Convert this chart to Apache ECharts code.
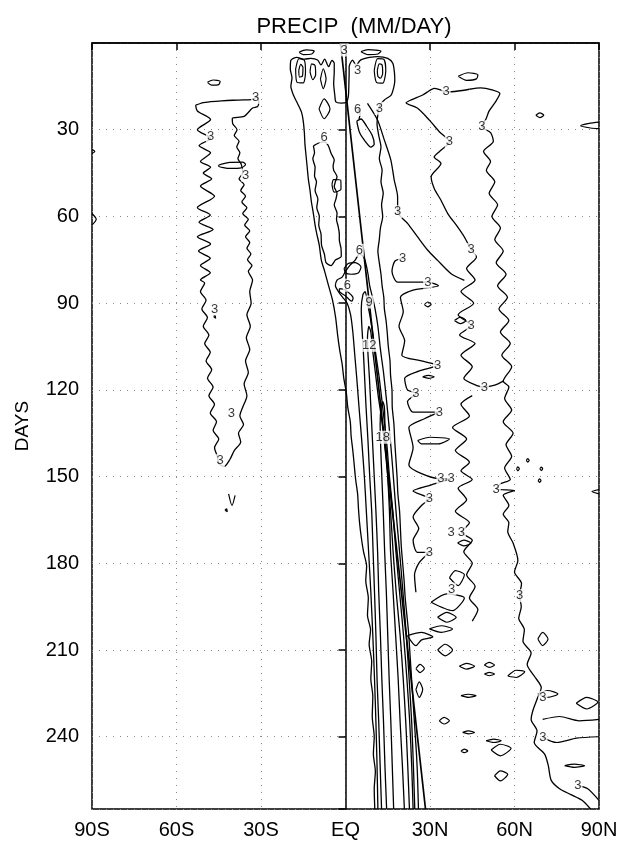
<!DOCTYPE html>
<html>
<head>
<meta charset="utf-8">
<script src="https://cdn.jsdelivr.net/npm/echarts@6/dist/echarts.min.js"></script>
<style>
  html, body { margin: 0; padding: 0; background: #fff; }
  #chart { width: 630px; height: 842px; }
</style>
</head>
<body>
<div id="chart"></div>
<script>
// Latitude / day contour traces of precipitation (mm/day); points are [lat, day].
const latTicks = ['90S', '60S', '30S', 'EQ', '30N', '60N', '90N'];
const dayTicks = [30, 60, 90, 120, 150, 180, 210, 240];

// straight reference line
const sunLine = [[-1.8, 0], [28.4, 265]];

// outer 3 mm/day contour of the tropical rain belt
const itczOuter = [
  [10.4,265],[10.2,258],[10.6,252],[9.9,246],[10.2,240],[9.5,233],[9.7,226],[9.0,220],[9.3,214],[8.4,208],
  [8.9,203],[7.8,198],[8.1,192],[7.2,186],[7.5,181],[6.4,176],[5.6,171],[5.0,166],[4.6,161],[4.3,156],
  [3.6,151],[3.1,146],[2.6,141],[2.0,136],[1.7,131],[0.8,126],[0.3,121],[-0.6,116],[-1.2,111],[-2.1,106],
  [-2.8,101],[-3.5,95],[-4.6,89],[-6.0,84],[-7.4,79],[-8.6,75],[-9.3,70],[-10.2,66],[-10.8,63],[-11.4,59],
  [-12.1,55],[-12.6,51],[-13.2,47],[-13.6,43],[-14.0,39],[-14.4,35],[-14.6,31],[-15.0,27],[-15.6,24],[-17.0,21],
  [-18.5,18],[-19.4,15],[-19.0,12],[-19.6,9],[-19.4,6],[-17.3,5.0],[-14.5,5.6],[-12.3,5.3],[-9.9,5.9],[-8.7,7.6],
  [-7.4,5.6],[-6.0,8.2],[-4.8,6.0],[-4.0,7.0],[-4.0,10],[-4.2,14],[-3.8,18],[-3.4,20.4],[-1.5,20.8],[0.2,20.6],
  [1.0,18.5],[1.2,14],[1.3,10],[1.3,8.2],[2.5,5.9],[3.8,7.8],[5.0,6.2],[6.1,5.6],[8.5,5.0],[11.4,4.7],
  [15.0,5.3],[16.8,7.0],[17.4,10.5],[17.5,13],[17.2,15.1],[16.2,18.0],[13.8,19.7],[12.2,21.5],[11.6,24],[11.2,28],
  [11.8,32],[12.6,36],[12.0,40],[13.0,44],[12.6,48],[13.4,52],[12.8,56],[13.2,60],[12.4,64],[12.0,68],
  [11.5,72],[12.0,76],[12.6,80],[13.0,84],[13.6,88],[13.8,92],[14.4,96],[14.8,100],[15.2,105],[15.8,110],
  [16.0,115],[16.5,120],[16.6,126],[17.2,132],[17.5,138],[17.9,144],[18.3,150],[18.6,156],[19.2,162],[19.5,168],
  [19.8,174],[20.3,180],[20.8,186],[21.2,192],[21.8,198],[22.4,204],[22.8,210],[23.2,216],[23.6,222],[24.0,228],
  [24.4,234],[24.8,240],[25.2,246],[25.5,252],[25.7,258],[25.9,265]
];

// 6 mm/day contours
const six1 = [
  [-11.4,35.6],[-9.5,34.6],[-7.5,34.2],[-6.2,35.3],[-5.6,36.8],[-5.1,38.2],[-4.0,40.5],[-4.4,42.5],[-4.2,44.0],[-3.0,46.3],
  [-3.6,48],[-4.0,49.7],[-3.0,52.0],[-3.4,54],[-4.0,56],[-3.0,58.9],[-3.2,61],[-2.6,63.5],[-2.2,66],[-2.2,68.1],
  [-1.6,71],[-1.5,73.9],[-3.5,75],[-5.1,77],[-6.9,76],[-7.5,73],[-8.5,70],[-8.7,66],[-9.5,63],[-9.3,60],
  [-10.2,57],[-9.8,54],[-10.8,51],[-10.3,48],[-11.0,46],[-10.8,43],[-11.6,40],[-11.0,38],[-11.4,35.6]
];
const six2 = [
  [11.5,265],[11.2,250],[10.8,235],[10.3,220],[9.7,205],[9.0,190],[8.2,176],[7.4,162],[6.7,150],[5.8,138],
  [4.8,126],[4.0,116],[3.3,108],[2.6,100],[1.8,94],[0.6,90],[-1.0,88],[-2.5,86],[-3.6,84],[-3.0,82],
  [-1.2,81],[0.0,79],[1.5,77],[3.5,75],[4.9,73],[6.5,74],[7.4,77],[8.0,80],[8.6,84],[9.6,88],
  [10.5,92],[11.5,98],[12.4,106],[13.5,114],[14.6,124],[15.6,134],[16.5,144],[17.3,154],[18.1,164],[19.2,176],
  [20.4,190],[21.6,205],[22.6,220],[23.5,235],[24.1,250],[24.6,265]
];
const six3 = [[4.0,27],[5.5,26.3],[7.5,28.8],[9.5,32],[10.2,35],[9.0,36],[7.0,34],[5.0,31],[4.0,27]];
const six4 = [[4.3,24.5],[4.6,22.8],[5.2,24.6],[4.8,26.3]];
// 9, 12 and 18 mm/day contours
const nine = [
  [12.8,265],[12.3,250],[11.8,235],[11.2,220],[10.8,205],[10.3,190],[9.8,176],[9.3,162],[8.6,150],[8.0,138],
  [7.3,126],[6.8,116],[6.3,106],[5.8,98],[5.6,92],[6.2,87],[7.0,86],[7.6,89],[8.6,94],[9.6,100],
  [10.8,108],[12.0,116],[13.2,126],[14.6,138],[15.6,150],[16.8,162],[17.9,176],[19.2,190],[20.6,205],[21.8,220],
  [22.8,235],[23.5,250],[24.0,265]
];
const twelve = [
  [14.6,265],[14.0,250],[13.5,235],[12.9,220],[12.4,205],[11.8,190],[11.4,176],[10.8,162],[10.2,150],[9.6,138],
  [9.0,126],[8.5,116],[8.0,108],[7.8,102],[8.3,98],[9.0,100],[9.6,106],[10.6,114],[11.6,122],[12.8,130],
  [14.0,140],[15.0,150],[16.0,162],[16.9,176],[18.0,190],[19.4,205],[20.5,220],[21.4,235],[22.1,250],[22.7,265]
];
const eighteen = [
  [17.1,265],[16.6,250],[16.1,235],[15.5,220],[15.0,205],[14.5,190],[13.9,176],[13.4,162],[12.9,150],[12.5,140],
  [12.3,132],[12.6,126],[13.2,124],[13.8,126],[14.0,132],[14.4,140],[15.0,150],[15.6,162],[16.0,176],[16.9,190],
  [17.8,205],[18.7,220],[19.4,235],[20.2,250],[20.9,265]
];

// small closed contours near the equator at the start
const eqBlobs = [
  [[-16.5,3.2],[-14,2.4],[-11.1,2.8],[-12,3.8],[-15,4.0],[-16.5,3.2]],
  [[5.5,3.0],[8,2.3],[12.6,2.8],[11.5,3.8],[8,4.0],[5.5,3.0]],
  [[-17.7,9],[-16.5,5.4],[-14.6,6],[-14.2,10],[-15,13.8],[-17.2,13.6],[-17.7,9]],
  [[-16.6,9.5],[-15.9,7.4],[-15.1,8.5],[-15.3,11.4],[-16.3,11.8],[-16.6,9.5]],
  [[-12.6,10],[-12,7.2],[-10.8,7.8],[-10.6,11],[-11.6,12.7],[-12.6,10]],
  [[-8.9,12.5],[-7.9,8.9],[-6.9,12.4],[-7.9,15.8],[-8.9,12.5]],
  [[-9.4,22.8],[-7.6,19.3],[-5.5,22.8],[-7.6,26.2],[-9.4,22.8]],
  [[10.2,9.5],[11.4,5.4],[13.6,5.6],[14.3,9.5],[13.2,13.9],[11.0,13.6],[10.2,9.5]],
  [[11.3,9.5],[12.0,7.2],[13.0,7.6],[13.2,10.5],[12.4,12.2],[11.5,11.5],[11.3,9.5]],
  [[-0.5,78],[1,76.3],[3.5,76],[5.5,77.5],[4.5,79.6],[2,80],[0,79.5],[-0.5,78]],
  [[-2.2,85],[0,85.5],[2.7,88.3],[2.2,89.3],[0,87.5],[-2.2,85.8],[-2.2,85]],
  [[-4.8,49],[-4.2,47.3],[-1.7,47.4],[-1.6,50.6],[-4.0,51.6],[-4.8,49]]
];

// southern hemisphere rain band
const shBand = [
  [-53.2,21.5],[-50.5,20.6],[-47.9,20.3],[-44,20.0],[-40,19.8],[-36,19.7],[-33,19.5],[-31.3,18.6],[-30.8,20.5],[-31.2,22],
  [-33,22.5],[-36,25.4],[-40.2,26.1],[-40.0,28],[-38.5,30],[-39.5,32],[-37.8,34],[-38.6,36],[-37.5,38],[-38.2,40],
  [-37.0,42],[-36.5,45],[-37.8,47],[-36.0,49],[-37.2,51],[-35.5,53],[-36.8,55],[-35.0,57],[-36.5,59],[-34.5,61],
  [-35.8,63],[-34.0,65],[-35.5,67],[-34.0,69],[-35.0,71],[-33.6,73],[-34.8,75],[-33.2,77],[-34.5,79],[-33.0,82],
  [-34.0,86],[-33.5,90],[-35.0,94],[-33.8,98],[-35.2,102],[-34.0,106],[-35.5,110],[-34.5,114],[-36.0,118],[-35.0,122],
  [-36.5,126],[-37.5,129],[-36.2,132],[-38,135],[-37.2,138],[-39.5,141],[-41,144],[-43,146.5],[-45,145.5],[-45.5,143],
  [-46.5,140],[-45.0,137],[-47.0,134],[-45.8,131],[-48,128],[-46.5,125],[-48.5,122],[-47,119],[-49,116],[-47.5,113],
  [-49.5,110],[-48,107],[-50,104],[-48.5,101],[-50.5,98],[-49,95],[-51,92],[-49.5,89],[-51.5,86],[-50,83],
  [-51.5,82],[-48.0,79.5],[-51.5,77],[-48.0,74.5],[-52.2,72],[-47.9,69.5],[-52.6,67],[-47.0,64.5],[-52.0,62],[-48,59.5],
  [-52.6,57],[-46.5,53],[-51.5,49.5],[-47.5,47],[-50.5,45],[-47.9,43],[-51.5,41],[-47.9,38],[-52.0,35.5],[-47.9,33],
  [-52.6,30],[-47.9,26.5],[-52.6,23.5],[-53.2,21.5]
];
const shBlobs = [
  [[-45,42.2],[-41,41.3],[-36.5,41.2],[-35.5,42],[-37,43.2],[-41,43.4],[-45,42.6],[-45,42.2]],
  [[-49,13.6],[-47,12.8],[-44.5,13.3],[-45,14.4],[-47.5,14.6],[-49,13.6]],
  [[-41.5,156],[-40.3,160],[-39.2,156.5]],
  [[-42.8,161.6],[-42.2,161.2],[-42.0,162.2],[-42.8,161.6]],
  [[-46.8,94.6],[-46.3,94.2],[-46.1,95.2],[-46.8,94.6]],
  [[-90,59],[-88.5,61],[-90,63]],
  [[-90,36.8],[-89,37.5],[-90,38.2]]
];

// northern subtropical / mid-latitude bands
const nhA = [
  [44,16],[40,16.6],[35.7,16.9],[33.9,16.3],[31.5,15.7],[29,17],[27.4,18.0],[23.3,19.7],[21.5,20.7],[25.6,22.6],
  [29.8,26.7],[33.3,30.7],[36.9,34.2],[33.3,37.6],[31.5,39.4],[33.9,41.7],[30.4,46.3],[31.5,50.3],[33.9,54.4],[36.3,59.0],
  [39.8,63.6],[42.2,67.1],[44.6,71.5],[46.5,74],[43,78],[46,82],[41,86],[45.5,90],[40,94],[44.6,97.7],
  [40.5,101],[46,104],[41,108],[45,112],[42,116],[47,118.6],[49.3,119],[53,118.4],[56,117]
];
const nhB = [
  [7.8,20.9],[11.4,26.7],[13.8,33.6],[16.1,40.5],[17.3,47.4],[18.5,53.2],[18.5,58.4],[22.1,62.5],[25.6,67.1],[29.2,71.7],
  [32.7,75.2],[37.5,79.8],[42.2,82.1]
];
const nhC = [
  [20.3,74.5],[17.5,75.5],[16.5,79],[18.5,82.7],[29.2,82.7],[33,84],[24,85.5],[19.5,88],[20.5,93],[19,98],
  [21,103],[20,108],[27,110],[32.7,111.5],[26,113.5],[21,116],[22,120],[25,121.3],[22,124],[24,127.7],
  [33.3,127.7],[28,130],[22.5,133],[24,140],[22.5,146],[27,149],[33.9,150.8],[37.5,150.8],[30,153],[24,155],
  [29.8,157.7],[27,160],[24,164],[26,168],[24,172],[25.5,176.2],[29.8,176.2],[26,180],[24.5,184],[25,190]
];
const nhD = [
  [44,16],[48,15.5],[52,16.2],[54.8,17.5],[53.5,20],[51,23.5],[50,26],[48.4,29],[51.5,31],[52.5,34],
  [49,37.5],[51.5,41],[50,44],[53,48],[51,52],[54,56],[52,60],[55,64],[53,68],[56,72],
  [53.5,76],[57,80],[54,84],[57.5,88],[54.5,92],[58,96],[55,100],[58.5,104],[55.5,108],[59,112],
  [56,117],[58,119],[56.5,123],[59,127],[56,131],[59.5,135],[57,139],[59,143],[56.5,147],[58.5,151],
  [55,152.5],[53.5,154.3],[60,154.8],[56,156.5],[58,160],[56,163],[58,166],[57.6,169],[59.5,173],[61.2,179],
  [60,183],[62.5,187],[61.8,191.2],[62.4,195],[61.5,199],[63.5,203],[63,207],[65.9,211],[64.5,215],[67,219],
  [69.5,223],[68,227],[66.5,231],[65.9,234],[68,238],[67,242],[70.7,246],[72,250],[73,255],[76,258],
  [80,260],[84,262],[87,265]
];
const nhE = [
  [45,122],[41,125],[44,129],[38,133],[43,137],[39,141],[44,145],[41,148],[45,151],[40,154],
  [43,158],[39,162],[44,166],[41.1,169.3],[45,172],[42,176],[45,180],[43,184],[46,188],[44,192],
  [47,196],[45,200]
];
const nhBlobs = [
  [[40,11.5],[43.5,10.3],[47,11],[46.5,12.4],[43,12.9],[40,11.5]],
  [[67.6,25],[69,24.2],[70.4,25],[69,25.8],[67.6,25]],
  [[28,90.5],[29.2,89.6],[30.4,90.4],[29.2,91.3],[28,90.5]],
  [[38.7,96],[40.8,94.8],[42.8,96],[40.8,97.1],[38.7,96]],
  [[27.4,115.5],[29.5,115],[31.5,115.5],[29.5,116],[27.4,115.5]],
  [[25.6,137.5],[30,136.4],[36.9,137],[33,138.7],[27,138.7],[25.6,137.5]],
  [[39.8,173],[42,172],[44.6,173],[42,174],[39.8,173]],
  [[36.9,185],[39,182.5],[42.2,184],[40,187.7],[36.9,185]],
  [[30.4,193.5],[36,190.6],[42.2,192],[38,196.4],[30.4,193.5]],
  [[32.7,198.7],[36,197],[39.3,198.7],[36,200.4],[32.7,198.7]],
  [[29.8,202.7],[34,201.6],[38,202.7],[34,203.9],[29.8,202.7]],
  [[32.7,210],[35.4,208],[38,210],[35.4,212],[32.7,210]],
  [[22,205],[27,203.9],[31,205.5],[27,206.5],[25,208.5],[22,205]],
  [[25,216.4],[26.5,215],[28,216.4],[26.5,217.8],[25,216.4]],
  [[25,223.7],[26.2,221],[27.4,223.7],[26.2,226.4],[25,223.7]],
  [[40.4,215.6],[43,214.6],[45.8,215.6],[43,216.6],[40.4,215.6]],
  [[49.3,215.2],[51,214.3],[52.9,215.2],[51,216],[49.3,215.2]],
  [[49.3,218.3],[51,217.7],[52.9,218.3],[51,218.9],[49.3,218.3]],
  [[57.6,219],[60.6,217],[63.6,217.5],[60.6,219.5],[57.6,219]],
  [[41,225.8],[43.7,225.3],[46.4,225.8],[43.7,226.4],[41,225.8]],
  [[33.3,234.5],[35,233.3],[36.9,234.5],[35,235.6],[33.3,234.5]],
  [[41.6,238.5],[43.7,238],[45.8,238.5],[43.7,239],[41.6,238.5]],
  [[49.9,241.4],[52.6,240.8],[55.3,241.4],[52.6,242],[49.9,241.4]],
  [[51.7,244.6],[55,242.6],[58.8,244],[55,246.6],[51.7,244.6]],
  [[41,244.9],[42.2,244.3],[43.4,244.9],[42.2,245.5],[41,244.9]],
  [[52.9,253.5],[55,251.8],[57.6,253],[55,255.3],[52.9,253.5]],
  [[68.3,225.2],[71.8,224],[75.4,225.2],[71.8,226.4],[68.3,225.2]],
  [[81.9,228.4],[85.7,226.4],[89.6,228],[85.7,230.4],[81.9,228.4]],
  [[68.3,206.2],[70,203.9],[71.9,206.2],[70,208.5],[68.3,206.2]],
  [[77.8,250],[81.3,249.5],[84.9,250],[81.3,250.6],[77.8,250]],
  [[64.2,144.4],[64.7,143.8],[65.2,144.4],[64.7,145],[64.2,144.4]],
  [[60.7,147.3],[61.2,146.6],[61.7,147.3],[61.2,148],[60.7,147.3]],
  [[69,147.3],[69.5,146.7],[70,147.3],[69.5,147.9],[69,147.3]],
  [[68.4,151.4],[68.9,150.8],[69.4,151.4],[68.9,152],[68.4,151.4]]
];
const nhLobes = [
  [[90,27.4],[86.5,27.8],[83.5,28.6],[87,29.4],[90,29.6]],
  [[90,154.5],[87.5,155.2],[90,156]],
  [[70,234],[76,233],[83,234.5],[90,234]],
  [[90,240],[82,240.5],[75,242],[70,240.3]],
  [[90,262],[86,258],[83,257]]
];

// contour value labels: [lat, day, text]
const contourLabels = [
  [-0.5,2.4,'3'],[4.3,9.4,'3'],[12.0,22.6,'3'],[4.3,23,'6'],[-7.6,32.7,'6'],[4.9,71.7,'6'],
  [-31.9,18.8,'3'],[-47.9,32.4,'3'],[-35.5,45.7,'3'],[-44.5,144.5,'3'],[-40.5,128,'3'],[-46.5,92,'3'],
  [35.7,16.9,'3'],[36.9,34.2,'3'],[48.4,29,'3'],[44.6,71.5,'3'],[18.5,58.4,'3'],[20.3,74.5,'3'],
  [0.7,83.8,'6'],[8.4,89.6,'9'],[8.4,104.6,'12'],[13.2,136.4,'18'],
  [29.2,82.7,'3'],[44.6,97.7,'3'],[32.7,111.5,'3'],[49.3,119,'3'],[25,121.3,'3'],[33.3,127.7,'3'],
  [33.9,150.8,'3'],[37.5,150.8,'3'],[53.5,154.3,'3'],[29.8,157.7,'3'],[37.5,169.3,'3'],[41.1,169.3,'3'],
  [29.8,176.2,'3'],[37.7,188.9,'3'],[61.8,191.2,'3'],[70.1,226.4,'3'],[70.1,240.3,'3'],[82.5,257,'3']
];

const chart = echarts.init(document.getElementById('chart'), null, { renderer: 'canvas' });

function contourSeries(pts, width) {
  return {
    type: 'line', data: pts, showSymbol: false, smooth: 0.25, silent: true,
    lineStyle: { color: '#000', width: width || 1 }, animation: false, z: 3
  };
}

const series = [];
[itczOuter, six1, six2, six3, six4, nine, twelve, eighteen, shBand, nhA, nhB, nhC, nhD, nhE]
  .forEach(c => series.push(contourSeries(c, 1.3)));
eqBlobs.concat(shBlobs, nhBlobs, nhLobes).forEach(c => series.push(contourSeries(c, 1.2)));
series.push({
  type: 'line', data: sunLine, showSymbol: false, silent: true, animation: false, z: 4,
  lineStyle: { color: '#000', width: 1.7 }
});
series.push({
  type: 'scatter', symbolSize: 0, silent: true, animation: false, z: 6,
  data: contourLabels.map(d => ({ value: [d[0], d[1]], label: { formatter: d[2] } })),
  label: {
    show: true, position: 'inside', color: '#000', fontSize: 13,
    fontFamily: 'Liberation Sans', backgroundColor: '#fff', padding: [0, 1]
  }
});

const latName = { '-90': '90S', '-60': '60S', '-30': '30S', '0': 'EQ', '30': '30N', '60': '60N', '90': '90N' };
const axisFont = { fontFamily: 'Liberation Sans', fontSize: 20, color: '#000' };

chart.setOption({
  animation: false,
  title: {
    text: 'PRECIP  (MM/DAY)', left: 349, top: 11, textAlign: 'center',
    textStyle: { fontFamily: 'Liberation Sans', fontSize: 22, fontWeight: 'normal', color: '#000' }
  },
  grid: { left: 92, right: 31, top: 43, bottom: 33, show: true, borderColor: '#000', borderWidth: 1.5 },
  xAxis: {
    type: 'value', min: -90, max: 90, interval: 30,
    axisLine: { show: true, lineStyle: { color: '#000', width: 1.5 } },
    axisTick: { show: true, inside: false, length: 7, lineStyle: { color: '#000', width: 1.5 } },
    axisLabel: Object.assign({ margin: 11, formatter: v => latName[String(v)] || '' }, axisFont),
    splitLine: { show: true, lineStyle: { color: '#8a8a8a', width: 1, type: [1, 6] } }
  },
  yAxis: {
    type: 'value', inverse: true, min: 0, max: 265, interval: 30,
    name: 'DAYS', nameLocation: 'middle', nameGap: 60, nameRotate: 90,
    nameTextStyle: { fontFamily: 'Liberation Sans', fontSize: 19, color: '#000' },
    axisLine: { show: true, lineStyle: { color: '#000', width: 1.5 } },
    axisTick: { show: true, inside: false, length: 7, lineStyle: { color: '#000', width: 1.5 } },
    axisLabel: Object.assign({ margin: 13, formatter: v => (dayTicks.indexOf(v) >= 0 ? String(v) : '') }, axisFont),
    splitLine: { show: true, lineStyle: { color: '#8a8a8a', width: 1, type: [1, 6] } }
  },
  series: series
});
</script>
</body>
</html>
